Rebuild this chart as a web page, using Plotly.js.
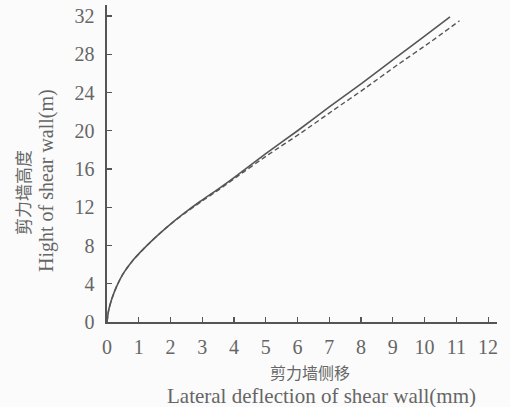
<!DOCTYPE html>
<html>
<head>
<meta charset="utf-8">
<script src="https://cdn.plot.ly/plotly-3.0.1.min.js"></script>
<style>html,body{margin:0;padding:0;background:#fbfbfb;}#chart{width:510px;height:407px;}</style>
</head>
<body>
<div id="chart"></div>
<script>
// Solid curve (deflection mm vs height m)
var solidX = [0, 0.05, 0.15, 0.3, 0.5, 0.83, 1.35, 1.88, 2.4, 2.93, 3.5, 4, 5, 6, 7, 8, 9, 10, 10.8];
var solidY = [0, 1.2, 2.4, 3.7, 5, 6.5, 8.3, 9.9, 11.3, 12.6, 13.9, 15.1, 17.6, 20.0, 22.5, 24.9, 27.4, 29.9, 31.9];
// Dashed curve
var dashX = [0, 0.05, 0.15, 0.3, 0.5, 0.83, 1.35, 1.88, 2.42, 2.97, 3.55, 4.05, 5.08, 6.12, 7.15, 8.15, 9.15, 10.15, 11.1];
var dashY = [0, 1.2, 2.4, 3.7, 5, 6.5, 8.3, 9.9, 11.3, 12.6, 13.9, 15.1, 17.5, 19.8, 22.2, 24.5, 26.9, 29.2, 31.5];
var xTicks = [0,1,2,3,4,5,6,7,8,9,10,11,12];
var yTicks = [0,4,8,12,16,20,24,28,32];

var grey = '#555555';
var serif = 'Liberation Serif, serif';
var cjk = 'Noto Sans CJK SC, sans-serif';

var traces = [
  {x: solidX, y: solidY, mode: 'lines', line: {color: grey, width: 1.6, shape: 'spline', smoothing: 0.6}, showlegend: false},
  {x: dashX, y: dashY, mode: 'lines', line: {color: grey, width: 1.4, dash: '5px,3px', shape: 'spline', smoothing: 0.6}, showlegend: false}
];

var L = 107, R = 13, T = 5, B = 85;
var W = 510, H = 407;
var pw = W - L - R, ph = H - T - B;
function px(x){ return (x - L) / pw; }
function py(y){ return (H - B - y) / ph; }

var tickGrey = '#666666';
var layout = {
  width: W, height: H,
  margin: {l: L, r: R, t: T, b: B},
  paper_bgcolor: '#fbfbfb',
  plot_bgcolor: '#fbfbfb',
  font: {family: serif, color: tickGrey, size: 19},
  xaxis: {
    range: [0, 12.28], tickvals: xTicks, ticktext: xTicks.map(String),
    ticks: 'inside', ticklen: 5, tickcolor: grey, tickwidth: 1.2,
    showline: true, linecolor: grey, linewidth: 1.6,
    showgrid: false, zeroline: false, ticklabelstandoff: 6,
    tickfont: {family: serif, size: 20, color: tickGrey}
  },
  yaxis: {
    range: [0, 33.15], tickvals: yTicks, ticktext: yTicks.map(String),
    ticks: 'inside', ticklen: 5, tickcolor: grey, tickwidth: 1.2,
    showline: true, linecolor: grey, linewidth: 1.6,
    showgrid: false, zeroline: false, ticklabelstandoff: 7,
    tickfont: {family: serif, size: 20, color: tickGrey}
  },
  annotations: [
    {text: '剪力墙高度', xref: 'paper', yref: 'paper', x: px(22), y: py(193), textangle: -90,
     showarrow: false, font: {family: cjk, size: 17, color: tickGrey}, xanchor: 'center', yanchor: 'middle'},
    {text: 'Hight of shear wall(m)', xref: 'paper', yref: 'paper', x: px(46), y: py(181), textangle: -90,
     showarrow: false, font: {family: serif, size: 20, color: tickGrey}, xanchor: 'center', yanchor: 'middle'},
    {text: '剪力墙侧移', xref: 'paper', yref: 'paper', x: px(310), y: py(372),
     showarrow: false, font: {family: cjk, size: 16, color: tickGrey}, xanchor: 'center', yanchor: 'middle'},
    {text: 'Lateral deflection of shear wall(mm)', xref: 'paper', yref: 'paper', x: px(321), y: py(396),
     showarrow: false, font: {family: serif, size: 21, color: tickGrey}, xanchor: 'center', yanchor: 'middle'}
  ]
};

Plotly.newPlot('chart', traces, layout, {displayModeBar: false, staticPlot: true});
</script>
</body>
</html>
